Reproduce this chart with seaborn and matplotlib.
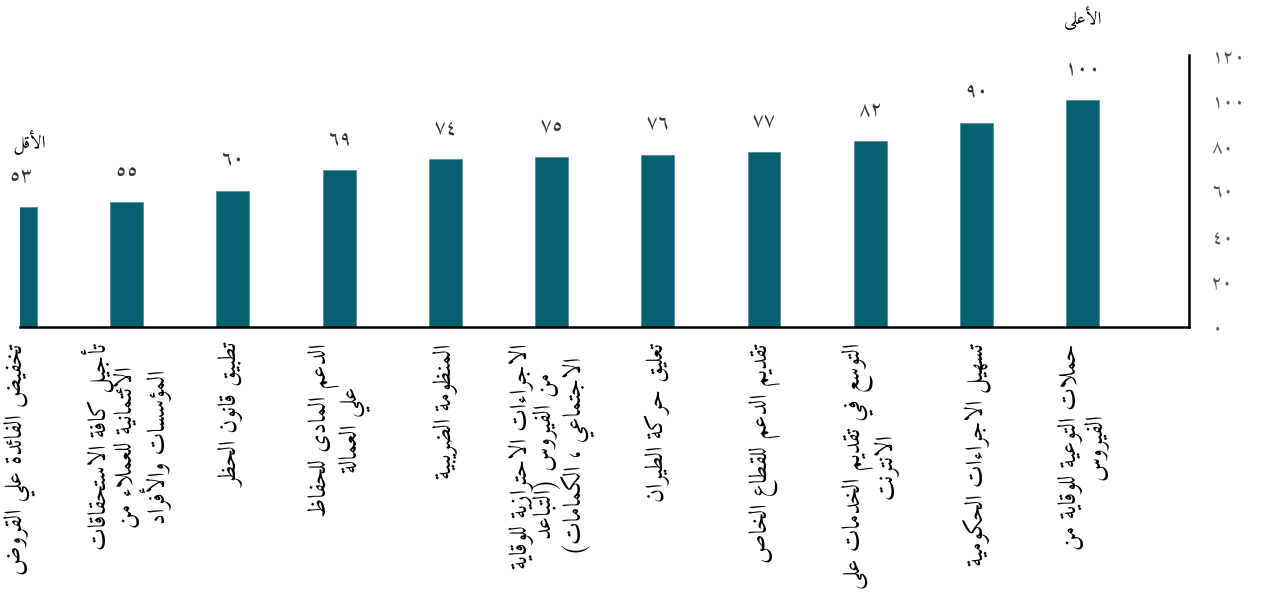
import matplotlib
matplotlib.use("Agg")
import matplotlib.pyplot as plt
import seaborn as sns
import pandas as pd

# ---------------- data ----------------
categories = [
    "تخفيض الفائدة علي القروض",
    "تأجيل كافة الاستحقاقات\nالائتمانية للعملاء من\nالمؤسسات والأفراد",
    "تطبيق قانون الحظر",
    "الدعم المادى للحفاظ\nعلي العمالة",
    "المنظومة الضريبية",
    "الاجراءات الاحترازية للوقاية\nمن الفيروس (التباعد\nالاجتماعي ، الكمامات)",
    "تعليق حركة الطيران",
    "تقديم الدعم للقطاع الخاص",
    "التوسع في تقديم الخدمات على\nالانترنت",
    "تسهيل الاجراءات الحكومية",
    "حملات التوعية للوقاية من\nالفيروس",
]
values = [53, 55, 60, 69, 74, 75, 76, 77, 82, 90, 100]
yticks = [0, 20, 40, 60, 80, 100, 120]
lowest_label = "الأقل"
highest_label = "الأعلى"

# ---------------- minimal Arabic shaping ----------------
_DUAL = {
    'ئ': 0xFE89, 'ب': 0xFE8F, 'ت': 0xFE95, 'ث': 0xFE99, 'ج': 0xFE9D, 'ح': 0xFEA1,
    'خ': 0xFEA5, 'س': 0xFEB1, 'ش': 0xFEB5, 'ص': 0xFEB9, 'ض': 0xFEBD, 'ط': 0xFEC1,
    'ظ': 0xFEC5, 'ع': 0xFEC9, 'غ': 0xFECD, 'ف': 0xFED1, 'ق': 0xFED5, 'ك': 0xFED9,
    'ل': 0xFEDD, 'م': 0xFEE1, 'ن': 0xFEE5, 'ه': 0xFEE9, 'ي': 0xFEF1,
}
_RIGHT = {
    'آ': 0xFE81, 'أ': 0xFE83, 'ؤ': 0xFE85, 'إ': 0xFE87, 'ا': 0xFE8D, 'ة': 0xFE93,
    'د': 0xFEA9, 'ذ': 0xFEAB, 'ر': 0xFEAD, 'ز': 0xFEAF, 'و': 0xFEED, 'ى': 0xFEEF,
}
_NONE = {'ء': 0xFE80}
_LAMALEF = {'آ': 0xFEF5, 'أ': 0xFEF7, 'إ': 0xFEF9, 'ا': 0xFEFB}
_MIRROR = {'(': ')', ')': '(', '[': ']', ']': '['}
_DIGITS = "٠١٢٣٤٥٦٧٨٩0123456789"


def _joins(ch):
    return ch in _DUAL or ch in _RIGHT


def _shape_line(s):
    out = []
    i = 0
    n = len(s)
    while i < n:
        c = s[i]
        prev = s[i - 1] if i > 0 else ''
        prev_conn = prev in _DUAL
        if c == 'ل' and i + 1 < n and s[i + 1] in _LAMALEF:
            base = _LAMALEF[s[i + 1]]
            out.append(chr(base + (1 if prev_conn else 0)))
            i += 2
            continue
        nxt = s[i + 1] if i + 1 < n else ''
        if c in _DUAL:
            next_conn = _joins(nxt)
            b = _DUAL[c]
            if prev_conn and next_conn:
                out.append(chr(b + 3))
            elif prev_conn:
                out.append(chr(b + 1))
            elif next_conn:
                out.append(chr(b + 2))
            else:
                out.append(chr(b))
        elif c in _RIGHT:
            b = _RIGHT[c]
            out.append(chr(b + 1 if prev_conn else b))
        elif c in _NONE:
            out.append(chr(_NONE[c]))
        else:
            out.append(c)
        i += 1
    tokens = []
    buf = ''
    for ch in out:
        if ch in _DIGITS:
            buf += ch
        else:
            if buf:
                tokens.append(buf)
                buf = ''
            tokens.append(_MIRROR.get(ch, ch))
    if buf:
        tokens.append(buf)
    return ''.join(reversed(tokens))


def ar(text):
    return '\n'.join(_shape_line(line) for line in text.split('\n'))


def arabic_digits(v):
    return ''.join('٠١٢٣٤٥٦٧٨٩'[int(d)] for d in str(v))


# ---------------- plot ----------------
sns.set_theme(style="white")
FONT = ['Amiri', 'DejaVu Sans']
plt.rcParams['font.family'] = FONT

df = pd.DataFrame({"cat": [ar(c) for c in categories], "val": values})

fig = plt.figure(figsize=(12.65, 5.94), dpi=100)
ax = fig.add_axes([20.3 / 1265, 1 - 326.7 / 594, 1168.7 / 1265, 271.7 / 594])

sns.barplot(data=df, x="cat", y="val", color="#07606F", saturation=1,
            width=0.31, edgecolor="#4f8f99", linewidth=0.6, ax=ax, zorder=2)

ax.set_xlim(0, 11)
ax.set_ylim(0, 120)
ax.set_xlabel("")
ax.set_ylabel("")

for s in ("left", "top"):
    ax.spines[s].set_visible(False)
for s in ("right", "bottom"):
    ax.spines[s].set_visible(True)
    ax.spines[s].set_color("black")
    ax.spines[s].set_linewidth(1.8)

ax.yaxis.tick_right()
ax.set_yticks(yticks)
ax.set_yticklabels([arabic_digits(t) for t in yticks], fontsize=14, color="#555555")
ax.tick_params(axis="y", length=0, pad=16)

ax.set_xticks(range(len(categories)))
ax.set_xticklabels(df["cat"], rotation=90, ha="center", va="top",
                   fontsize=17.5, linespacing=0.97, multialignment="center",
                   color="black")
ax.tick_params(axis="x", length=0, pad=12)
ax.grid(False)

for i, v in enumerate(values):
    ax.annotate(arabic_digits(v), (i, v), xytext=(0, 22), textcoords="offset points",
                ha="center", va="center", fontsize=15, color="#333333",
                annotation_clip=False)

ax.annotate(ar(lowest_label), (0, values[0]), xytext=(7, 46), textcoords="offset points",
            ha="center", va="center", fontsize=13, color="black", annotation_clip=False)
imax = values.index(max(values))
ax.annotate(ar(highest_label), (imax, values[imax]), xytext=(0, 59), textcoords="offset points",
            ha="center", va="center", fontsize=13, color="black", annotation_clip=False)

fig.savefig("out.png", dpi=100, facecolor="white")
